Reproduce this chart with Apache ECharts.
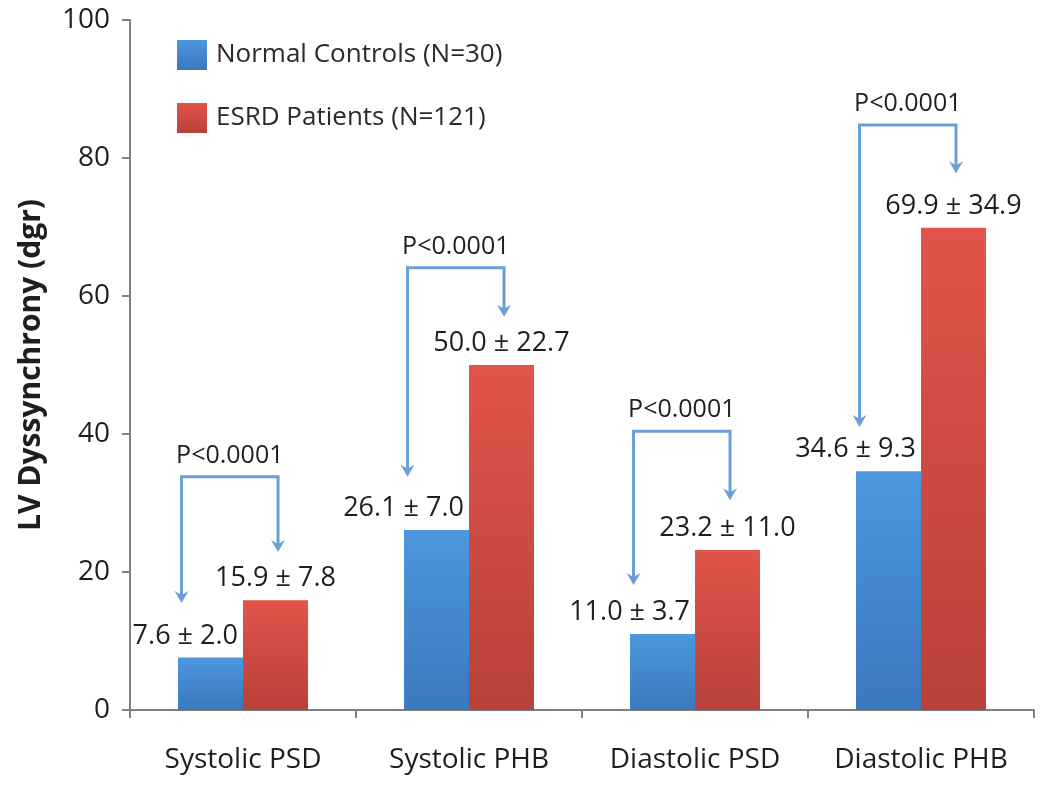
<!DOCTYPE html>
<html><head><meta charset="utf-8">
<script src="https://cdn.jsdelivr.net/npm/echarts@6/dist/echarts.min.js"></script>
<style>html,body{margin:0;padding:0;background:#fff}#c{width:1050px;height:791px}</style>
</head><body><div id="c"></div>
<script>
const categories = ['Systolic PSD', 'Systolic PHB', 'Diastolic PSD', 'Diastolic PHB'];
const seriesNames = ['Normal Controls (N=30)', 'ESRD Patients (N=121)'];
const controlMean = [7.6, 26.1, 11.0, 34.6];
const controlSD = [2.0, 7.0, 3.7, 9.3];
const esrdMean = [15.9, 50.0, 23.2, 69.9];
const esrdSD = [7.8, 22.7, 11.0, 34.9];
const pLabels = ['P<0.0001', 'P<0.0001', 'P<0.0001', 'P<0.0001'];
const bracketTop = [33.8, 64.1, 40.4, 84.8];
const bracketLeftTip = [15.5, 33.8, 18.1, 41.0];
const bracketRightTip = [22.9, 57.0, 30.4, 77.8];
const yMin = 0, yMax = 100, yInterval = 20;
const yAxisTitle = 'LV Dyssynchrony (dgr)';

const FONT = '"Open Sans", "Noto Sans", sans-serif';
const TXT = '#1e1e1e';
const ARROW = '#6a9fd8';

const blueFill = new echarts.graphic.LinearGradient(0, 0, 0, 1, [
  {offset: 0, color: '#4c97de'}, {offset: 1, color: '#3a79be'}]);
const redFill = new echarts.graphic.LinearGradient(0, 0, 0, 1, [
  {offset: 0, color: '#e2544a'}, {offset: 1, color: '#b8413a'}]);

const bracketData = categories.map((c, i) => [i, bracketTop[i], bracketLeftTip[i], bracketRightTip[i]]);

function renderBracket(params, api) {
  const i = api.value(0);
  const band = api.size([1, 0])[0];
  const c = api.coord([i, api.value(1)]);
  const xl = c[0] - 0.272 * band, xr = c[0] + 0.155 * band;
  const yt = c[1];
  const yl = api.coord([i, api.value(2)])[1];
  const yr = api.coord([i, api.value(3)])[1];
  const ah = 12, aw = 7;
  function head(x, y) {
    return {type: 'polygon', shape: {points: [[x - aw, y - ah], [x, y - ah + 4], [x + aw, y - ah], [x, y]]},
      style: {fill: ARROW}};
  }
  return {type: 'group', children: [
    {type: 'polyline', shape: {points: [[xl, yl - ah + 4], [xl, yt], [xr, yt], [xr, yr - ah + 4]]},
      style: {stroke: ARROW, lineWidth: 3, fill: null}},
    head(xl, yl), head(xr, yr),
    {type: 'text', x: (xl + xr) / 2, y: yt - 21,
      style: {text: pLabels[params.dataIndex], fill: TXT, font: '25px ' + FONT, align: 'center', verticalAlign: 'middle'}}
  ]};
}

const chart = echarts.init(document.getElementById('c'), null, {renderer: 'canvas'});
chart.setOption({
  animation: false,
  backgroundColor: '#fff',
  grid: {left: 130, right: 16, top: 20, bottom: 81, containLabel: false},
  legend: {
    data: seriesNames, orient: 'vertical', left: 172, top: 35,
    itemWidth: 30, itemHeight: 30, itemGap: 33, icon: 'rect',
    textStyle: {fontSize: 26, color: '#2a2a2a', fontFamily: FONT, padding: [0, 0, 0, 4]}
  },
  xAxis: {
    type: 'category', data: categories,
    axisLine: {lineStyle: {color: '#808080', width: 2}},
    axisTick: {show: true, interval: 0, length: 8, inside: false, lineStyle: {color: '#808080', width: 2}},
    axisLabel: {interval: 0, hideOverlap: false, fontSize: 28, color: TXT, fontFamily: FONT, margin: 36}
  },
  yAxis: {
    type: 'value', min: yMin, max: yMax, interval: yInterval,
    name: yAxisTitle, nameLocation: 'middle', nameGap: 84, nameRotate: 90,
    nameTextStyle: {fontSize: 30, fontWeight: 'bold', color: TXT, fontFamily: FONT},
    splitLine: {show: false},
    axisLine: {show: true, lineStyle: {color: '#808080', width: 2}},
    axisTick: {show: true, length: 8, lineStyle: {color: '#808080', width: 2}},
    axisLabel: {fontSize: 28, color: TXT, fontFamily: FONT, margin: 20}
  },
  series: [
    {
      name: seriesNames[0], type: 'bar', data: controlMean, barGap: '0%', barCategoryGap: '42.5%',
      itemStyle: {color: blueFill},
      label: {show: true, position: ['100%', 0], align: 'right', verticalAlign: 'bottom', offset: [-5, -8],
        fontSize: 27, color: TXT, fontFamily: FONT,
        formatter: p => controlMean[p.dataIndex].toFixed(1) + ' \u00b1 ' + controlSD[p.dataIndex].toFixed(1)}
    },
    {
      name: seriesNames[1], type: 'bar', data: esrdMean, barGap: '0%', barCategoryGap: '42.5%',
      itemStyle: {color: redFill},
      label: {show: true, position: 'top', distance: 8,
        fontSize: 27, color: TXT, fontFamily: FONT,
        formatter: p => esrdMean[p.dataIndex].toFixed(1) + ' \u00b1 ' + esrdSD[p.dataIndex].toFixed(1)}
    },
    {
      type: 'custom', coordinateSystem: 'cartesian2d', data: bracketData,
      encode: {x: 0, y: 1}, renderItem: renderBracket, clip: false, silent: true, z: 5
    }
  ]
});
</script></body></html>
